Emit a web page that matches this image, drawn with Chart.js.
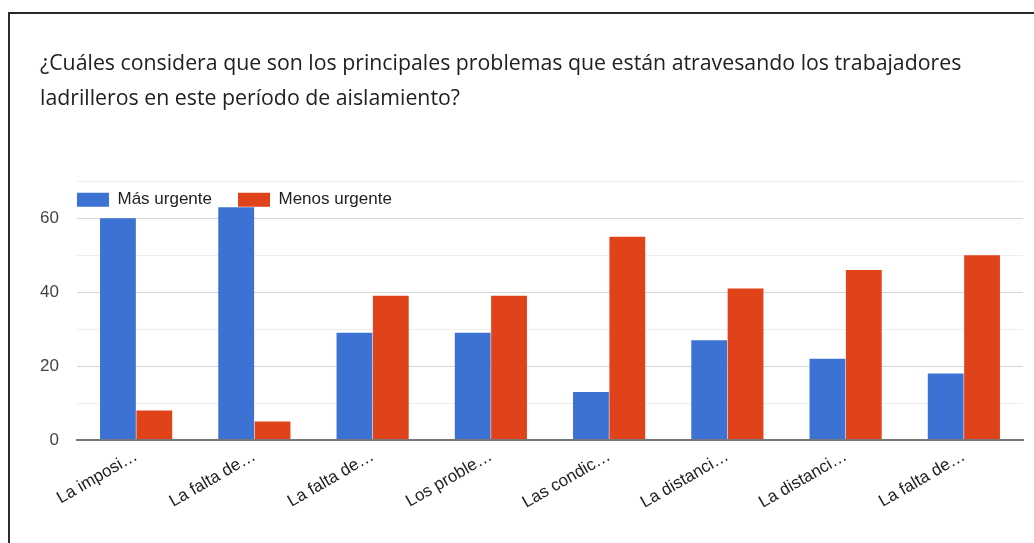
<!DOCTYPE html>
<html>
<head>
<meta charset="utf-8">
<script src="https://cdn.jsdelivr.net/npm/chart.js@4.4.1/dist/chart.umd.min.js"></script>
<style>
  html, body { margin: 0; padding: 0; background: #fff; overflow: hidden; }
  #frame { position: absolute; left: 8px; top: 12px; width: 1040px; height: 540px;
           border-top: 2px solid #2b2b2b; border-left: 2px solid #2b2b2b; pointer-events: none; }
  canvas { position: absolute; left: 0; top: 0; }
</style>
</head>
<body>
<canvas id="chart" width="1034" height="543"></canvas>
<div id="frame"></div>
<script>
const titleLines = [
  '¿Cuáles considera que son los principales problemas que están atravesando los trabajadores',
  'ladrilleros en este período de aislamiento?'
];
const categories = ['La imposi…', 'La falta de…', 'La falta de…', 'Los proble…', 'Las condic…', 'La distanci…', 'La distanci…', 'La falta de…'];
const masUrgente = [60, 63, 29, 29, 13, 27, 22, 18];
const menosUrgente = [8, 5, 39, 39, 55, 41, 46, 50];
const seriesNames = ['Más urgente', 'Menos urgente'];
const yLabelStep = 20;

const axisFont = '"Liberation Sans", Arial, sans-serif';

// The legend floats inside the plot area instead of taking its own band:
// it reserves no layout height and is then pinned near the top-left corner.
const floatingLegend = {
  id: 'floatingLegend',
  beforeLayout(chart) {
    const lg = chart.legend;
    if (lg && !lg._floating) {
      const fit = lg.fit.bind(lg);
      lg.fit = function () { fit(); this._fullHeight = this.height; this.height = 0; };
      lg._floating = true;
    }
  },
  afterLayout(chart) {
    const lg = chart.legend;
    if (!lg) return;
    const pad = lg.options.labels.padding;
    const h = lg._fullHeight || 60;
    lg.left = chart.chartArea.left - pad;
    lg.right = chart.chartArea.right;
    lg.top = chart.chartArea.top + 10 - pad;
    lg.bottom = lg.top + h;
    lg.width = lg.right - lg.left;
    lg.height = h;
  }
};

new Chart(document.getElementById('chart'), {
  type: 'bar',
  data: {
    labels: categories,
    datasets: [
      { label: seriesNames[0], data: masUrgente, backgroundColor: '#3c72d3' },
      { label: seriesNames[1], data: menosUrgente, backgroundColor: '#e0431a' }
    ]
  },
  plugins: [floatingLegend],
  options: {
    responsive: false,
    animation: false,
    devicePixelRatio: 1,
    layout: { padding: { left: 40, right: 11, top: 0, bottom: 0 } },
    datasets: { bar: { categoryPercentage: 0.615, barPercentage: 0.985 } },
    plugins: {
      tooltip: { enabled: false },
      title: {
        display: true,
        text: titleLines,
        align: 'start',
        color: '#202124',
        font: { family: '"Open Sans", Roboto, sans-serif', size: 21.3, weight: 'normal', lineHeight: 1.65 },
        padding: { top: 46, bottom: 65 }
      },
      legend: {
        position: 'top',
        align: 'start',
        labels: {
          boxWidth: 32,
          boxHeight: 14,
          padding: 26,
          color: '#222',
          font: { family: axisFont, size: 17 }
        }
      }
    },
    scales: {
      x: {
        grid: { display: false, drawTicks: false },
        border: { display: true, color: '#777', width: 2 },
        ticks: {
          minRotation: 30,
          maxRotation: 30,
          autoSkip: false,
          padding: 6,
          color: '#222',
          font: { family: axisFont, size: 17 }
        },
        afterFit(scale) { scale.height = 103; }
      },
      y: {
        min: 0,
        max: 70,
        grid: {
          drawTicks: false,
          color: (ctx) => ctx.tick.value === 0 ? '#777' : (ctx.tick.value % yLabelStep === 0 ? '#d6d6d6' : '#eeeeee'),
          lineWidth: (ctx) => ctx.tick.value === 0 ? 2 : 1
        },
        border: { display: false },
        ticks: {
          stepSize: 10,
          padding: 18,
          color: '#444',
          font: { family: axisFont, size: 17 },
          callback: (v) => v % yLabelStep === 0 ? String(v) : ''
        },
        afterFit(scale) { scale.width = 37; }
      }
    }
  }
});
</script>
</body>
</html>
